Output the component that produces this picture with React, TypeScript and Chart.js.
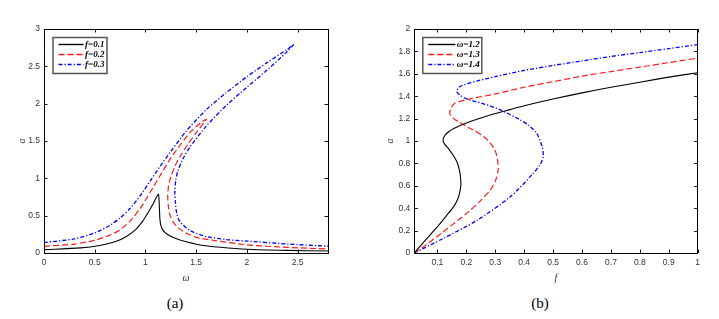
import { useEffect, useRef } from "react";
import { Chart, registerables } from "chart.js";

Chart.register(...registerables);

// ---------- Panel (a): a versus omega ----------
const omegaF01 = [0, 0.36, 0.55, 0.7, 0.8, 0.9, 0.97, 1.03, 1.08, 1.11, 1.128, 1.133, 1.138, 1.142, 1.15, 1.17, 1.21, 1.27, 1.34, 1.54, 1.74, 2.0, 2.4, 2.8];
const ampF01 = [0.045, 0.068, 0.1, 0.15, 0.21, 0.31, 0.42, 0.55, 0.67, 0.75, 0.79, 0.74, 0.6, 0.47, 0.38, 0.31, 0.255, 0.21, 0.174, 0.107, 0.076, 0.05, 0.035, 0.027];

const omegaF02 = [0, 0.3, 0.5, 0.65, 0.75, 0.85, 0.95, 1.05, 1.15, 1.25, 1.35, 1.45, 1.55, 1.6, 1.58, 1.5, 1.42, 1.35, 1.29, 1.25, 1.228, 1.22, 1.225, 1.24, 1.27, 1.33, 1.41, 1.5, 1.67, 2.0, 2.4, 2.8];
const ampF02 = [0.09, 0.12, 0.17, 0.24, 0.31, 0.43, 0.6, 0.82, 1.05, 1.27, 1.46, 1.63, 1.75, 1.79, 1.75, 1.61, 1.46, 1.31, 1.16, 1.02, 0.9, 0.77, 0.64, 0.52, 0.42, 0.33, 0.26, 0.21, 0.17, 0.11, 0.075, 0.055];

const omegaF03 = [0, 0.3, 0.5, 0.65, 0.75, 0.85, 0.95, 1.05, 1.15, 1.25, 1.4, 1.6, 1.8, 2.0, 2.2, 2.4, 2.47, 2.44, 2.4, 2.2, 2.0, 1.8, 1.6, 1.44, 1.37, 1.32, 1.3, 1.29, 1.295, 1.31, 1.34, 1.44, 1.6, 1.8, 2.0, 2.4, 2.8];
const ampF03 = [0.14, 0.19, 0.27, 0.37, 0.47, 0.6, 0.77, 0.97, 1.17, 1.36, 1.63, 1.92, 2.15, 2.36, 2.55, 2.73, 2.8, 2.76, 2.7, 2.45, 2.22, 1.98, 1.7, 1.42, 1.26, 1.1, 0.98, 0.82, 0.68, 0.52, 0.42, 0.3, 0.22, 0.18, 0.16, 0.12, 0.09];

const ticksAX = [0, 0.5, 1, 1.5, 2, 2.5];
const ticksAY = [0, 0.5, 1, 1.5, 2, 2.5, 3];
const legendA = ["f=0.1", "f=0.2", "f=0.3"];

// ---------- Panel (b): a versus f ----------
const forceW12 = [0.02, 0.06, 0.1, 0.13, 0.155, 0.17, 0.177, 0.181, 0.18, 0.176, 0.168, 0.155, 0.14, 0.127, 0.12, 0.121, 0.127, 0.14, 0.16, 0.2, 0.25, 0.3, 0.35, 0.4, 0.5, 0.6, 0.7, 0.8, 0.9, 1.0];
const ampW12 = [0, 0.12, 0.235, 0.33, 0.41, 0.48, 0.54, 0.607, 0.67, 0.74, 0.81, 0.87, 0.925, 0.965, 0.994, 1.025, 1.055, 1.085, 1.115, 1.16, 1.205, 1.245, 1.28, 1.315, 1.375, 1.43, 1.48, 1.525, 1.57, 1.61];

const forceW13 = [0.02, 0.07, 0.12, 0.17, 0.213, 0.25, 0.282, 0.3, 0.31, 0.308, 0.299, 0.28, 0.259, 0.23, 0.2, 0.175, 0.155, 0.145, 0.143, 0.148, 0.161, 0.18, 0.2, 0.3, 0.4, 0.5, 0.6, 0.7, 0.8, 0.9, 1.0];
const ampW13 = [0, 0.09, 0.19, 0.29, 0.38, 0.47, 0.56, 0.64, 0.74, 0.83, 0.92, 0.99, 1.04, 1.09, 1.13, 1.17, 1.2, 1.23, 1.26, 1.3, 1.34, 1.355, 1.37, 1.42, 1.48, 1.53, 1.58, 1.62, 1.66, 1.7, 1.74];

const forceW14 = [0.02, 0.12, 0.236, 0.351, 0.431, 0.455, 0.466, 0.462, 0.443, 0.415, 0.385, 0.316, 0.25, 0.207, 0.18, 0.167, 0.172, 0.189, 0.236, 0.3, 0.4, 0.5, 0.6, 0.7, 0.8, 0.9, 1.0];
const ampW14 = [0, 0.13, 0.29, 0.5, 0.71, 0.79, 0.86, 0.95, 1.07, 1.14, 1.19, 1.28, 1.34, 1.37, 1.405, 1.44, 1.475, 1.5, 1.535, 1.575, 1.63, 1.675, 1.715, 1.755, 1.79, 1.825, 1.86];

const ticksBX = [0.1, 0.2, 0.3, 0.4, 0.5, 0.6, 0.7, 0.8, 0.9, 1];
const ticksBY = [0, 0.2, 0.4, 0.6, 0.8, 1, 1.2, 1.4, 1.6, 1.8, 2];
const legendB = ["ω=1.2", "ω=1.3", "ω=1.4"];

const pts = (xs: number[], ys: number[]) => xs.map((x, i) => ({ x, y: ys[i] }));

const STYLES = [
  { color: "#000000", dash: [] as number[], width: 1.1 },
  { color: "#ff1a1a", dash: [6, 3], width: 1.2 },
  { color: "#0000ff", dash: [4, 2, 1.2, 2], width: 1.3 },
];

function makeDatasets(xsList: number[][], ysList: number[][], labels: string[]) {
  return xsList.map((xs, i) => ({
    label: labels[i],
    data: pts(xs, ysList[i]),
    showLine: true,
    borderColor: STYLES[i].color,
    borderDash: STYLES[i].dash,
    borderWidth: STYLES[i].width,
    pointRadius: 0,
    tension: 0.25,
    fill: false,
  }));
}

const frameTicks = {
  id: "frameTicks",
  afterDatasetsDraw(chart: any) {
    const { ctx, chartArea } = chart;
    const { left, right, top, bottom } = chartArea;
    const xs = chart.scales.x;
    const ys = chart.scales.y;
    const L = 3.5;
    ctx.save();
    ctx.strokeStyle = "#111";
    ctx.lineWidth = 1;
    ctx.setLineDash([]);
    ctx.beginPath();
    xs.ticks.forEach((t: any) => {
      const p = Math.round(xs.getPixelForValue(t.value)) + 0.5;
      ctx.moveTo(p, bottom);
      ctx.lineTo(p, bottom - L);
      ctx.moveTo(p, top);
      ctx.lineTo(p, top + L);
    });
    ys.ticks.forEach((t: any) => {
      const p = Math.round(ys.getPixelForValue(t.value)) + 0.5;
      ctx.moveTo(left, p);
      ctx.lineTo(left + L, p);
      ctx.moveTo(right, p);
      ctx.lineTo(right - L, p);
    });
    ctx.stroke();
    ctx.strokeStyle = "#000";
    ctx.strokeRect(Math.round(left) + 0.5, Math.round(top) + 0.5, Math.round(right - left), Math.round(bottom - top));
    ctx.restore();
  },
};

const insetLegend = {
  id: "insetLegend",
  afterDraw(chart: any, _args: any, opts: any) {
    const { ctx, chartArea } = chart;
    const x0 = chartArea.left + opts.dx;
    const y0 = chartArea.top + opts.dy;
    ctx.save();
    ctx.fillStyle = "#fff";
    ctx.fillRect(x0, y0, opts.w, opts.h);
    ctx.strokeStyle = "#555";
    ctx.lineWidth = 1.5;
    ctx.setLineDash([]);
    ctx.strokeRect(x0, y0, opts.w, opts.h);
    chart.data.datasets.forEach((ds: any, i: number) => {
      const y = y0 + 7 + i * 10;
      ctx.beginPath();
      ctx.strokeStyle = ds.borderColor;
      ctx.lineWidth = ds.borderWidth + 0.3;
      ctx.setLineDash(ds.borderDash);
      ctx.moveTo(x0 + 5.5, y);
      ctx.lineTo(x0 + opts.lineEnd, y);
      ctx.stroke();
      ctx.setLineDash([]);
      ctx.fillStyle = "#000";
      ctx.font = 'italic bold 9px "Liberation Serif", "DejaVu Serif", serif';
      ctx.textBaseline = "middle";
      ctx.textAlign = "left";
      ctx.fillText(ds.label, x0 + opts.lineEnd + 1.5, y + 0.5);
    });
    ctx.restore();
  },
};

type PanelCfg = {
  datasets: any[];
  xMin: number; xMax: number; yMin: number; yMax: number;
  xTicks: number[]; yTicks: number[];
  xTitle: string; yTitle: string;
  padRight: number; yWidth: number; yTitlePad: number;
  legend: { dx: number; dy: number; w: number; h: number; lineEnd: number };
};

function makeConfig(c: PanelCfg): any {
  const tickFont = { family: '"Liberation Sans", Arial, sans-serif', size: 8.5 };
  const titleFont = { family: '"Liberation Serif", "DejaVu Serif", serif', size: 10, style: "italic" as const };
  return {
    type: "scatter",
    data: { datasets: c.datasets },
    options: {
      animation: false,
      responsive: false,
      devicePixelRatio: 1,
      layout: { padding: { left: 0, top: 29, right: c.padRight, bottom: 0 } },
      plugins: {
        legend: { display: false },
        tooltip: { enabled: false },
        insetLegend: c.legend,
      },
      scales: {
        x: {
          type: "linear",
          min: c.xMin,
          max: c.xMax,
          grid: { display: false, drawTicks: false },
          border: { display: false },
          afterBuildTicks: (s: any) => { s.ticks = c.xTicks.map((v) => ({ value: v })); },
          afterFit: (s: any) => { s.height = 37; },
          ticks: {
            padding: 5,
            color: "#333",
            font: tickFont,
            maxRotation: 0,
            autoSkip: false,
            callback: (v: any) => String(Number(Number(v).toFixed(2))),
          },
          title: { display: true, text: c.xTitle, color: "#333", font: titleFont, padding: { top: 0, bottom: 6 } },
        },
        y: {
          type: "linear",
          min: c.yMin,
          max: c.yMax,
          grid: { display: false, drawTicks: false },
          border: { display: false },
          afterBuildTicks: (s: any) => { s.ticks = c.yTicks.map((v) => ({ value: v })); },
          afterFit: (s: any) => { s.width = c.yWidth; },
          ticks: {
            padding: 4,
            color: "#333",
            font: tickFont,
            autoSkip: false,
            callback: (v: any) => String(Number(Number(v).toFixed(2))),
          },
          title: { display: true, text: c.yTitle, color: "#333", font: titleFont, padding: { top: c.yTitlePad, bottom: 0 } },
        },
      },
    },
    plugins: [frameTicks, insetLegend],
  };
}

function Panel({ cfg, left, width }: { cfg: PanelCfg; left: number; width: number }) {
  const ref = useRef<HTMLCanvasElement | null>(null);
  useEffect(() => {
    if (!ref.current) return;
    const chart = new Chart(ref.current, makeConfig(cfg));
    return () => chart.destroy();
  }, []);
  return (
    <canvas
      ref={ref}
      width={width}
      height={290}
      style={{ position: "absolute", left, top: 0, width, height: 290 }}
    />
  );
}

const panelA: PanelCfg = {
  datasets: makeDatasets([omegaF01, omegaF02, omegaF03], [ampF01, ampF02, ampF03], legendA),
  xMin: 0, xMax: 2.8, yMin: 0, yMax: 3,
  xTicks: ticksAX, yTicks: ticksAY,
  xTitle: "ω", yTitle: "a",
  padRight: 17, yWidth: 44, yTitlePad: 16.5,
  legend: { dx: 9, dy: 8.5, w: 54, h: 36, lineEnd: 30.5 },
};

const panelB: PanelCfg = {
  datasets: makeDatasets([forceW12, forceW13, forceW14], [ampW12, ampW13, ampW14], legendB),
  xMin: 0.02, xMax: 1, yMin: 0, yMax: 2,
  xTicks: ticksBX, yTicks: ticksBY,
  xTitle: "f", yTitle: "a",
  padRight: 21.3, yWidth: 54.3, yTitlePad: 24.5,
  legend: { dx: 8.5, dy: 8.5, w: 59, h: 36, lineEnd: 32.5 },
};

export default function App() {
  const cap: any = {
    position: "absolute",
    top: 295,
    width: 40,
    textAlign: "center",
    fontFamily: '"Liberation Serif", "DejaVu Serif", serif',
    fontSize: 15,
    lineHeight: "16px",
    color: "#000",
  };
  return (
    <div style={{ position: "fixed", left: 0, top: 0, width: 719, height: 319, background: "#fff", overflow: "hidden" }}>
      <Panel cfg={panelA} left={0} width={345} />
      <Panel cfg={panelB} left={360} width={359} />
      <div style={{ ...cap, left: 155 }}>(a)</div>
      <div style={{ ...cap, left: 520 }}>(b)</div>
    </div>
  );
}
